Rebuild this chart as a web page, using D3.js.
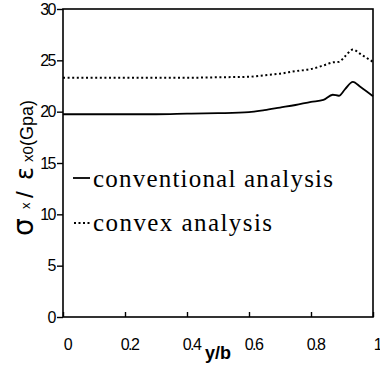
<!DOCTYPE html>
<html>
<head>
<meta charset="utf-8">
<script src="https://cdn.jsdelivr.net/npm/d3@7"></script>
<style>
  body { margin: 0; background: #fff; }
  svg { display: block; }
</style>
</head>
<body>
<svg id="chart" width="380" height="368"></svg>
<script>
const xs = [0, 0.1, 0.2, 0.3, 0.4, 0.5, 0.6, 0.65, 0.7, 0.75, 0.8, 0.84, 0.87, 0.89, 0.91, 0.935, 0.96, 1.0];
const conventional = [19.75, 19.75, 19.75, 19.75, 19.8, 19.85, 19.95, 20.15, 20.4, 20.65, 20.95, 21.15, 21.65, 21.55, 22.2, 22.9, 22.4, 21.5];
const convex = [23.3, 23.3, 23.3, 23.3, 23.3, 23.35, 23.4, 23.55, 23.7, 23.95, 24.15, 24.5, 24.8, 24.85, 25.4, 26.05, 25.6, 24.85];
const xTicks = [0, 0.2, 0.4, 0.6, 0.8, 1];
const yTicks = [0, 5, 10, 15, 20, 25, 30];

const margin = { left: 63, right: 7, top: 9, bottom: 51 };
const width = 380, height = 368;

const svg = d3.select("#chart");
const x = d3.scaleLinear().domain([0, 1]).range([margin.left, width - margin.right]);
const y = d3.scaleLinear().domain([0, 30]).range([height - margin.bottom, margin.top]);

const sans = "Liberation Sans, Arial, sans-serif";
const serif = "Liberation Serif, Times New Roman, serif";

// frame
svg.append("rect")
    .attr("x", x(0)).attr("y", y(30))
    .attr("width", x(1) - x(0)).attr("height", y(0) - y(30))
    .attr("fill", "none").attr("stroke", "#000").attr("stroke-width", 1.6);

// y axis, ticks outward
const yAxis = svg.append("g")
    .attr("transform", `translate(${x(0)},0)`)
    .call(d3.axisLeft(y).tickValues(yTicks).tickSize(6).tickPadding(2).tickFormat(d3.format("d")));
yAxis.select(".domain").remove();
yAxis.selectAll("line").attr("stroke-width", 1.4);
yAxis.selectAll("text")
    .attr("font-family", sans)
    .attr("font-size", 16)
    .attr("letter-spacing", -1.5)
    .attr("fill", "#000");

// x axis, ticks inward
const xAxis = svg.append("g")
    .attr("transform", `translate(0,${y(0)})`)
    .call(d3.axisBottom(x).tickValues(xTicks).tickSize(-5).tickPadding(22)
        .tickFormat(d => d === 0 || d === 1 ? d : d3.format(".1f")(d)));
xAxis.select(".domain").remove();
xAxis.selectAll("line").attr("stroke-width", 1.4);
xAxis.selectAll("text")
    .attr("font-family", sans)
    .attr("font-size", 16)
    .attr("letter-spacing", -1.5)
    .attr("dx", 4)
    .attr("fill", "#000");

// lines
const line = vals => d3.line().curve(d3.curveMonotoneX)
    .x((d, i) => x(xs[i])).y(d => y(d))(vals);

svg.append("path")
    .attr("d", line(conventional))
    .attr("fill", "none").attr("stroke", "#000").attr("stroke-width", 1.8);

svg.append("path")
    .attr("d", line(convex))
    .attr("fill", "none").attr("stroke", "#000").attr("stroke-width", 2)
    .attr("stroke-dasharray", "2,2.6");

// legend
svg.append("line")
    .attr("x1", 73).attr("x2", 90).attr("y1", 178).attr("y2", 178)
    .attr("stroke", "#000").attr("stroke-width", 1.8);
svg.append("text")
    .attr("x", 93).attr("y", 187)
    .attr("font-family", serif).attr("font-size", 25)
    .attr("textLength", 240).attr("lengthAdjust", "spacing")
    .text("conventional analysis");

svg.append("line")
    .attr("x1", 74).attr("x2", 91).attr("y1", 223).attr("y2", 223)
    .attr("stroke", "#000").attr("stroke-width", 1.8)
    .attr("stroke-dasharray", "2,2.5");
svg.append("text")
    .attr("x", 93).attr("y", 231)
    .attr("font-family", serif).attr("font-size", 25)
    .attr("textLength", 179).attr("lengthAdjust", "spacing")
    .text("convex analysis");

// x label
svg.append("text")
    .attr("x", 218).attr("y", 359)
    .attr("text-anchor", "middle")
    .attr("font-family", sans)
    .attr("font-size", 18).attr("font-weight", "bold")
    .text("y/b");

// y label, pieces placed along the rotated baseline
const yl = svg.append("g").attr("transform", "translate(33,0) rotate(-90)");
const ylParts = [
    { t: "σ", at: 236, size: 28, font: "DejaVu Sans, sans-serif", dy: 0 },
    { t: "x", at: 209, size: 13, font: sans, dy: -3 },
    { t: "/", at: 198, size: 24, font: sans, dy: 0 },
    { t: "ε", at: 180, size: 24, font: "DejaVu Sans, sans-serif", dy: 0 },
    { t: "x0", at: 162, size: 15, font: sans, dy: 0 },
    { t: "(Gpa)", at: 146, size: 18, font: sans, dy: 0 }
];
yl.selectAll("text").data(ylParts).join("text")
    .attr("x", d => -d.at).attr("y", d => d.dy)
    .attr("font-family", d => d.font).attr("font-size", d => d.size)
    .text(d => d.t);
</script>
</body>
</html>
